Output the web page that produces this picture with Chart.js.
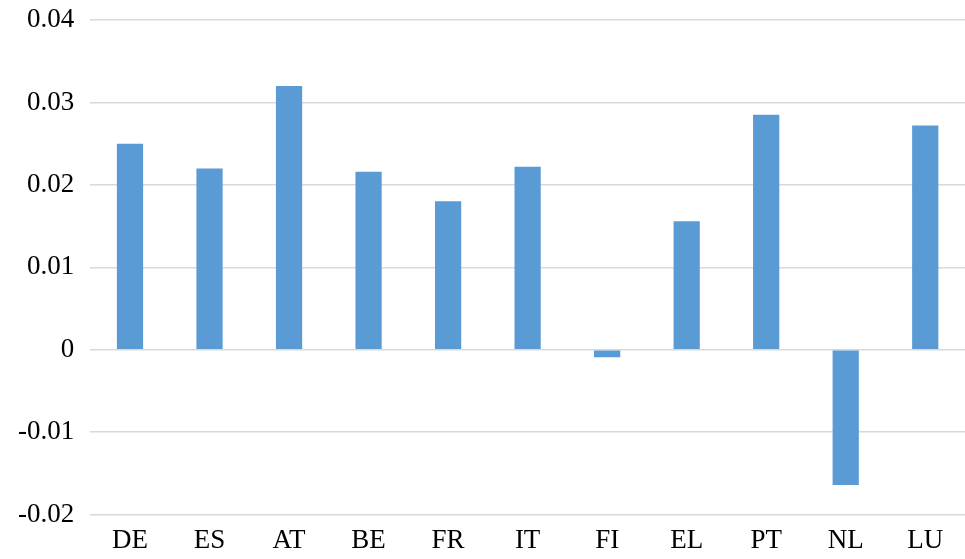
<!DOCTYPE html>
<html lang="en">
<head>
<meta charset="UTF-8">
<title>Bar chart</title>
<style>
  html, body { margin: 0; padding: 0; background: #fff; }
  #wrap { width: 965px; height: 559px; }
</style>
</head>
<body>
<div id="wrap"><canvas id="chart"></canvas></div>
<script src="https://cdn.jsdelivr.net/npm/chart.js"></script>
<script>
  const categories = ["DE", "ES", "AT", "BE", "FR", "IT", "FI", "EL", "PT", "NL", "LU"];
  const values = [0.025, 0.022, 0.032, 0.0216, 0.018, 0.0222, -0.0009, 0.0156, 0.0285, -0.0164, 0.0272];

  const serif = "'Liberation Serif', 'Times New Roman', Times, serif";

  new Chart(document.getElementById("chart"), {
    type: "bar",
    data: {
      labels: categories,
      datasets: [{
        data: values,
        backgroundColor: "#5B9BD5",
        barPercentage: 0.33,
        categoryPercentage: 1
      }]
    },
    options: {
      responsive: true,
      maintainAspectRatio: false,
      animation: false,
      layout: { padding: { left: 2, right: 0, top: 20, bottom: 0 } },
      plugins: { legend: { display: false }, tooltip: { enabled: false } },
      scales: {
        x: {
          grid: { display: false },
          border: { display: false },
          ticks: { color: "#000", font: { family: serif, size: 27 }, padding: 2 }
        },
        y: {
          min: -0.02,
          max: 0.04,
          afterFit: s => { s.paddingTop = 0; },
          ticks: {
            stepSize: 0.01,
            color: "#000",
            padding: 16,
            font: { family: serif, size: 27 },
            callback: v => Math.round(v * 100) / 100
          },
          grid: { color: "#d9d9d9", lineWidth: 1.5, drawTicks: false },
          border: { display: false }
        }
      }
    }
  });
</script>
</body>
</html>
